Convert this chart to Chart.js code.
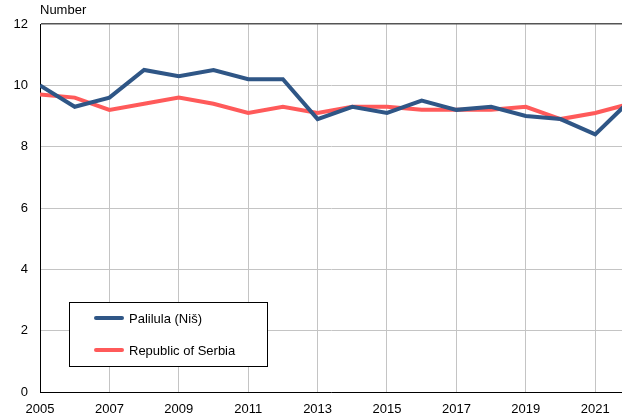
<!DOCTYPE html>
<html>
<head>
<meta charset="utf-8">
<script src="https://cdn.jsdelivr.net/npm/chart.js@4"></script>
<style>
  html, body { margin: 0; padding: 0; background: #fff; overflow: hidden; }
  #wrap { position: relative; width: 622px; height: 417px; }
</style>
</head>
<body>
<div id="wrap"><canvas id="chart" width="622" height="417"></canvas></div>
<script>
const years = [2005, 2006, 2007, 2008, 2009, 2010, 2011, 2012, 2013, 2014, 2015, 2016, 2017, 2018, 2019, 2020, 2021, 2022];
const palilula = [10.0, 9.3, 9.6, 10.5, 10.3, 10.5, 10.2, 10.2, 8.9, 9.3, 9.1, 9.5, 9.2, 9.3, 9.0, 8.9, 8.4, 9.5];
const serbia = [9.7, 9.6, 9.2, 9.4, 9.6, 9.4, 9.1, 9.3, 9.1, 9.3, 9.3, 9.2, 9.2, 9.2, 9.3, 8.9, 9.1, 9.4];
const xTicks = [2005, 2007, 2009, 2011, 2013, 2015, 2017, 2019, 2021];
const yTicks = [0, 2, 4, 6, 8, 10, 12];
const seriesNames = ["Palilula (Niš)", "Republic of Serbia"];

const FONT = "'Liberation Sans', Arial, sans-serif";

const toPoints = vals => years.map((y, i) => ({ x: y, y: vals[i] }));

// legend box drawn inside the plot, bottom-left
const boxLegend = {
  id: "boxLegend",
  afterDraw(chart) {
    const ctx = chart.ctx;
    ctx.save();
    ctx.fillStyle = "#fff";
    ctx.fillRect(69, 302, 198, 64);
    ctx.strokeStyle = "#000";
    ctx.lineWidth = 1;
    ctx.strokeRect(69.5, 302.5, 198, 64);
    chart.data.datasets.forEach((ds, i) => {
      const y = 318 + i * 32;
      ctx.strokeStyle = ds.borderColor;
      ctx.lineWidth = 4;
      ctx.lineCap = "round";
      ctx.beginPath();
      ctx.moveTo(96, y);
      ctx.lineTo(122, y);
      ctx.stroke();
      ctx.fillStyle = "#000";
      ctx.font = "13px " + FONT;
      ctx.textBaseline = "middle";
      ctx.fillText(ds.label, 129, y + 1);
    });
    ctx.restore();
  }
};

const unitTitle = {
  id: "unitTitle",
  afterDraw(chart) {
    const ctx = chart.ctx;
    ctx.save();
    ctx.fillStyle = "#000";
    ctx.font = "13px " + FONT;
    ctx.textBaseline = "middle";
    ctx.fillText("Number", 40, 10);
    ctx.restore();
  }
};

new Chart(document.getElementById("chart"), {
  type: "line",
  data: {
    datasets: [
      {
        label: seriesNames[0],
        data: toPoints(palilula),
        borderColor: "#2F5686",
        borderWidth: 4,
        pointRadius: 0,
        tension: 0
      },
      {
        label: seriesNames[1],
        data: toPoints(serbia),
        borderColor: "#FF5A5A",
        borderWidth: 4,
        pointRadius: 0,
        tension: 0
      }
    ]
  },
  options: {
    responsive: false,
    animation: false,
    layout: { padding: { top: 24, right: 0, left: 0, bottom: 0 } },
    plugins: {
      legend: { display: false },
      tooltip: { enabled: false }
    },
    scales: {
      x: {
        type: "linear",
        min: 2005,
        max: 2005 + 582 / 34.7,
        afterBuildTicks: axis => { axis.ticks = xTicks.map(v => ({ value: v })); },
        afterFit: axis => { axis.height = 25; },
        ticks: {
          autoSkip: false,
          maxRotation: 0,
          padding: 10,
          color: "#000",
          font: { family: FONT, size: 13 },
          callback: v => String(v)
        },
        grid: { color: "#c4c4c4", lineWidth: 1, drawTicks: false },
        border: { color: "#000", width: 1 }
      },
      y: {
        min: 0,
        max: 12,
        afterBuildTicks: axis => { axis.ticks = yTicks.map(v => ({ value: v })); },
        afterFit: axis => { axis.width = 40; },
        ticks: {
          padding: 12,
          color: "#000",
          font: { family: FONT, size: 13 }
        },
        grid: {
          color: c => (c.tick && c.tick.value === 12 ? "#555" : "#c4c4c4"),
          lineWidth: c => (c.tick && c.tick.value === 12 ? 1.5 : 1),
          drawTicks: false
        },
        border: { color: "#000", width: 1 }
      }
    }
  },
  plugins: [unitTitle, boxLegend]
});
</script>
</body>
</html>
